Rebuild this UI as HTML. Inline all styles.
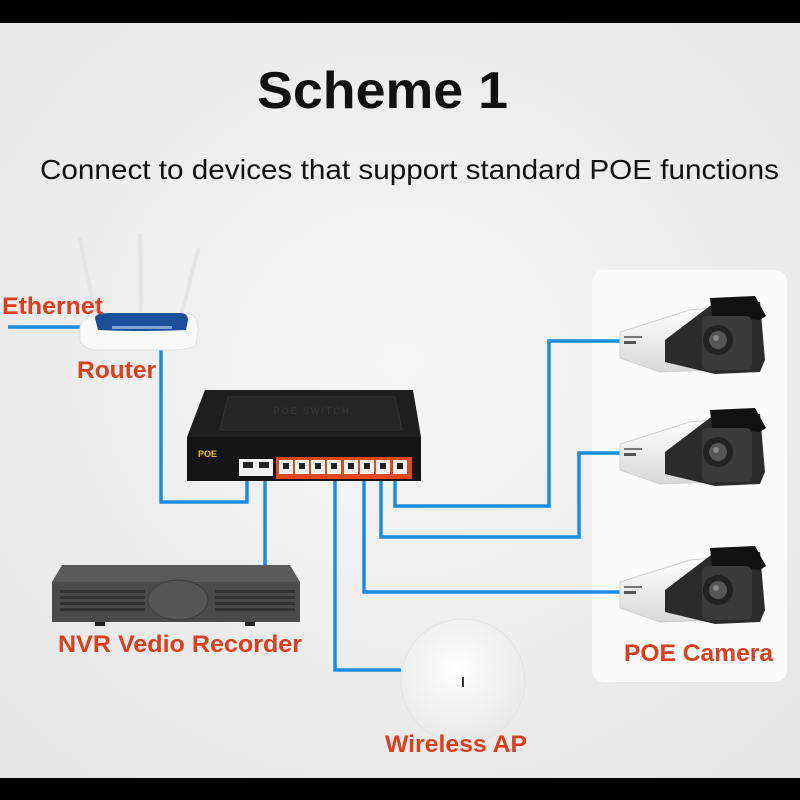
<!DOCTYPE html>
<html><head><meta charset="utf-8"><style>
html,body{margin:0;padding:0;width:800px;height:800px;overflow:hidden;background:#000}
svg{display:block}
text{font-family:"Liberation Sans",Arial,sans-serif}
</style></head><body>
<svg width="800" height="800" viewBox="0 0 800 800" xmlns="http://www.w3.org/2000/svg">
<defs>
<radialGradient id="bg" cx="0.5" cy="0.45" r="0.7">
<stop offset="0" stop-color="#f6f6f6"/><stop offset="1" stop-color="#e6e6e6"/>
</radialGradient>
<linearGradient id="cam" x1="0" y1="0" x2="0" y2="1">
<stop offset="0" stop-color="#ffffff"/><stop offset="1" stop-color="#d8d8d8"/>
</linearGradient>
<radialGradient id="ap" cx="0.45" cy="0.4" r="0.6">
<stop offset="0" stop-color="#ffffff"/><stop offset="1" stop-color="#e9e9e9"/>
</radialGradient>
<g id="camera">
<path d="M0,10 L70,-12 L92,-14 L92,48 L40,50 L0,36 Z" fill="url(#cam)" stroke="#cfcfcf" stroke-width="1"/>
<path d="M45,18 L95,-20 L140,-20 L145,38 L140,50 L95,52 L45,40 Z" fill="#2b2b2b"/>
<path d="M90,-24 L135,-26 L146,-6 L140,-2 L92,-6 Z" fill="#111"/>
<rect x="82" y="-6" width="50" height="54" rx="6" fill="#3a3a3a"/>
<circle cx="98" cy="18" r="15" fill="#222"/>
<circle cx="98" cy="18" r="9" fill="#555"/>
<circle cx="96" cy="16" r="3" fill="#888"/>
<rect x="4" y="14" width="18" height="2" fill="#777"/>
<rect x="4" y="19" width="12" height="3" fill="#555"/>
</g>
</defs>
<rect x="0" y="0" width="800" height="800" fill="#000"/>
<rect x="0" y="23" width="800" height="755" fill="url(#bg)"/>

<text x="257" y="108" font-size="52" font-weight="bold" fill="#111" textLength="251" lengthAdjust="spacingAndGlyphs">Scheme 1</text>
<text x="40" y="179" font-size="28" fill="#111" textLength="739" lengthAdjust="spacingAndGlyphs">Connect to devices that support standard POE functions</text>

<rect x="592" y="270" width="195" height="412" rx="12" fill="#fbfbfb"/>

<g fill="none" stroke="#1a8de0" stroke-width="3.5">
<path d="M8,327 L88,327"/>
<path d="M161,350 L161,502 L247,502 L247,480"/>
<path d="M265,480 L265,565"/>
<path d="M335,480 L335,670 L401,670"/>
<path d="M364,480 L364,592 L622,592"/>
<path d="M381,480 L381,537 L579,537 L579,453 L622,453"/>
<path d="M395,480 L395,506 L549,506 L549,341 L622,341"/>
</g>

<g stroke="#e4e4e4" stroke-width="4" stroke-linecap="round">
<line x1="80" y1="240" x2="95" y2="312"/>
<line x1="140" y1="235" x2="141" y2="310"/>
<line x1="198" y1="250" x2="182" y2="312"/>
</g>
<path d="M80,330 Q80,318 95,316 L190,314 Q198,316 198,330 L196,345 Q190,350 170,350 L95,350 Q82,348 80,340 Z" fill="#fafafa" stroke="#e0e0e0"/>
<path d="M95,318 Q95,313 110,313 L180,313 Q188,313 188,320 L186,330 Q140,332 98,330 Z" fill="#1b4f99"/>
<rect x="112" y="326" width="60" height="3" fill="#7fa3d6"/>
<text x="2" y="314" font-size="24" font-weight="bold" fill="#d8401f" textLength="101" lengthAdjust="spacingAndGlyphs">Ethernet</text>
<text x="77" y="378" font-size="24" font-weight="bold" fill="#d8401f" textLength="79" lengthAdjust="spacingAndGlyphs">Router</text>

<path d="M205,390 L413,390 L421,437 L187,437 Z" fill="#1e1e1e"/>
<path d="M228,397 L395,397 L402,430 L220,430 Z" fill="#262626" stroke="#333"/>
<text x="312" y="414" font-size="9" fill="#3a3a3a" text-anchor="middle" letter-spacing="2">POE SWITCH</text>
<rect x="187" y="437" width="234" height="44" fill="#151515"/>
<text x="198" y="457" font-size="9" font-weight="bold" fill="#e8c020">POE</text>
<rect x="239" y="459" width="34" height="17" fill="#f0f0f0"/>
<rect x="276" y="457" width="136" height="22" fill="#e04a1a"/>
<g fill="#f4f4f4">
<rect x="279" y="460" width="14" height="14"/><rect x="295" y="460" width="14" height="14"/>
<rect x="311" y="460" width="14" height="14"/><rect x="327" y="460" width="14" height="14"/>
<rect x="344" y="460" width="14" height="14"/><rect x="360" y="460" width="14" height="14"/>
<rect x="376" y="460" width="14" height="14"/><rect x="393" y="460" width="14" height="14"/>
</g>
<g fill="#222">
<rect x="283" y="463" width="6" height="6"/><rect x="299" y="463" width="6" height="6"/>
<rect x="315" y="463" width="6" height="6"/><rect x="331" y="463" width="6" height="6"/>
<rect x="348" y="463" width="6" height="6"/><rect x="364" y="463" width="6" height="6"/>
<rect x="380" y="463" width="6" height="6"/><rect x="397" y="463" width="6" height="6"/>
<rect x="243" y="462" width="10" height="6"/><rect x="259" y="462" width="10" height="6"/>
</g>

<path d="M62,565 L290,565 L300,582 L52,582 Z" fill="#5a5a5a"/>
<rect x="52" y="582" width="248" height="40" fill="#4a4a4a"/>
<g fill="#333">
<rect x="60" y="590" width="85" height="3"/><rect x="60" y="596" width="85" height="3"/><rect x="60" y="602" width="85" height="3"/><rect x="60" y="608" width="85" height="3"/>
<rect x="215" y="590" width="80" height="3"/><rect x="215" y="596" width="80" height="3"/><rect x="215" y="602" width="80" height="3"/><rect x="215" y="608" width="80" height="3"/>
</g>
<ellipse cx="178" cy="600" rx="30" ry="20" fill="#555" stroke="#3a3a3a"/>
<rect x="95" y="622" width="10" height="4" fill="#222"/><rect x="245" y="622" width="10" height="4" fill="#222"/>
<text x="58" y="652" font-size="24" font-weight="bold" fill="#d8401f" textLength="244" lengthAdjust="spacingAndGlyphs">NVR Vedio Recorder</text>

<circle cx="463" cy="681" r="62" fill="url(#ap)" stroke="#e2e2e2"/>
<rect x="462" y="677" width="2" height="10" fill="#333"/>
<text x="385" y="752" font-size="24" font-weight="bold" fill="#d8401f" textLength="142" lengthAdjust="spacingAndGlyphs">Wireless AP</text>

<use href="#camera" x="620" y="322"/>
<use href="#camera" x="620" y="434"/>
<use href="#camera" x="620" y="572"/>
<text x="624" y="661" font-size="24" font-weight="bold" fill="#d8401f" textLength="149" lengthAdjust="spacingAndGlyphs">POE Camera</text>
</svg>
</body></html>
